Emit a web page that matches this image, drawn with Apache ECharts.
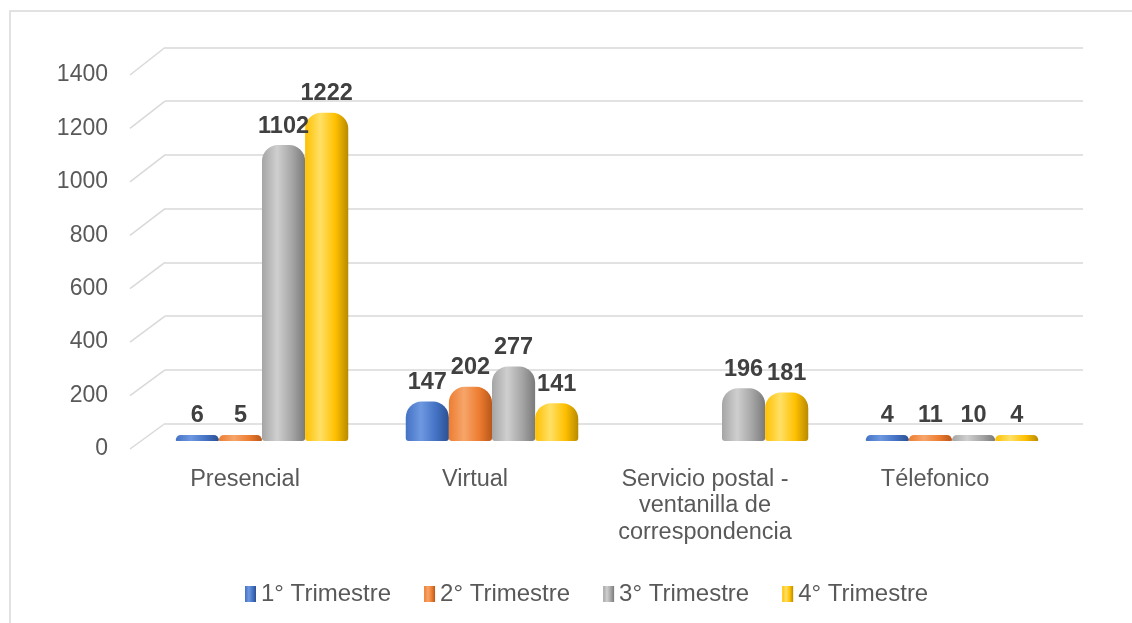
<!DOCTYPE html>
<html>
<head>
<meta charset="utf-8">
<script src="https://cdn.jsdelivr.net/npm/echarts@6/dist/echarts.min.js"></script>
<style>
  html, body { margin: 0; padding: 0; background: #fff; }
  #chart { width: 1132px; height: 623px; }
</style>
</head>
<body>
<div id="chart"></div>
<script>
  // datos
  const categories = ["Presencial", "Virtual", "Servicio postal -\nventanilla de\ncorrespondencia", "Télefonico"];
  const seriesNames = ["1° Trimestre", "2° Trimestre", "3° Trimestre", "4° Trimestre"];
  const trim1 = [6, 147, null, 4];
  const trim2 = [5, 202, null, 11];
  const trim3 = [1102, 277, 196, 10];
  const trim4 = [1222, 141, 181, 4];
  const yTicks = [0, 200, 400, 600, 800, 1000, 1200, 1400];

  // colores (borde oscuro, base, brillo)
  const palette = [
    ["#2c5191", "#4472c4", "#6e98e0"],
    ["#b9571a", "#ed7d31", "#f6a56a"],
    ["#7a7a7a", "#a5a5a5", "#cfcfcf"],
    ["#b88a00", "#ffc000", "#ffe066"]
  ];

  const font = "'Liberation Sans', Arial, sans-serif";
  const chart = echarts.init(document.getElementById("chart"));

  const grad = c => new echarts.graphic.LinearGradient(0, 0, 1, 0, [
    { offset: 0, color: c[1] },
    { offset: 0.35, color: c[2] },
    { offset: 0.7, color: c[1] },
    { offset: 1, color: c[0] }
  ]);

  const allData = [trim1, trim2, trim3, trim4];
  const series = allData.map((d, i) => ({
    name: seriesNames[i],
    type: "bar",
    xAxisIndex: 0,
    yAxisIndex: 0,
    data: d,
    barGap: "0%",
    barCategoryGap: "25%",
    barMinHeight: 6,
    itemStyle: {
      color: grad(palette[i]),
      borderRadius: [16, 16, 3, 3]
    },
    label: {
      show: true,
      position: "top",
      distance: 7,
      fontFamily: font,
      fontSize: 23.5,
      fontWeight: "bold",
      color: "#404040"
    }
  }));

  const gridBars = { left: 147, right: 65, top: 65, bottom: 182 };
  const gridBack = { left: 165, right: 49, top: 47.5, bottom: 199.5 };
  const gridFront = { left: 130, right: 82, top: 75, bottom: 174 };

  const valAxis = (idx, extra) => Object.assign({
    type: "value",
    gridIndex: idx,
    min: 0,
    max: 1400,
    interval: 200,
    axisLine: { show: false },
    axisTick: { show: false },
    axisLabel: { show: false },
    splitLine: { show: false }
  }, extra);

  const option = {
    animation: false,
    backgroundColor: "#fff",
    grid: [gridBars, gridBack, gridFront],
    legend: {
      data: seriesNames,
      left: 240,
      top: 577,
      itemWidth: 11,
      itemHeight: 16,
      itemGap: 33,
      icon: "rect",
      textStyle: { fontFamily: font, fontSize: 24, color: "#595959" }
    },
    xAxis: [
      { type: "category", gridIndex: 0, data: categories, show: false },
      { type: "category", gridIndex: 1, data: categories, show: false },
      {
        type: "category",
        gridIndex: 2,
        data: categories,
        axisLine: { show: false },
        axisTick: { show: false },
        axisLabel: {
          margin: 17,
          fontFamily: font,
          fontSize: 23.5,
          lineHeight: 26.5,
          color: "#595959",
          interval: 0
        }
      }
    ],
    yAxis: [
      valAxis(0),
      valAxis(1, { splitLine: { show: true, lineStyle: { color: "#d9d9d9", width: 1.5 } } }),
      valAxis(2, {
        axisLabel: {
          show: true,
          margin: 22,
          fontFamily: font,
          fontSize: 23,
          color: "#595959",
          formatter: v => String(v)
        }
      })
    ],
    series
  };

  chart.setOption(option);

  // líneas diagonales del piso 3D y marco exterior
  const diag = yTicks.map(v => {
    const yFront = chart.convertToPixel({ yAxisIndex: 2 }, v);
    const yBack = chart.convertToPixel({ yAxisIndex: 1 }, v);
    return {
      type: "line",
      silent: true,
      z: 0,
      shape: { x1: gridFront.left, y1: yFront, x2: gridBack.left, y2: yBack },
      style: { stroke: "#d9d9d9", lineWidth: 1.5 }
    };
  });
  diag.push({
    type: "rect",
    silent: true,
    z: 0,
    shape: { x: 10, y: 11, width: 1140, height: 640 },
    style: { fill: null, stroke: "#d9d9d9", lineWidth: 1.5 }
  });
  chart.setOption({ graphic: diag });
</script>
</body>
</html>
